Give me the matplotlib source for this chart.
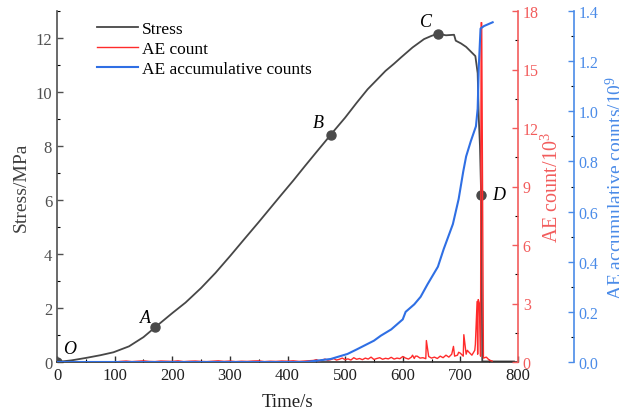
import matplotlib
matplotlib.use("Agg")
import matplotlib.pyplot as plt
from matplotlib.ticker import MultipleLocator, FormatStrFormatter
import numpy as np

plt.rcParams['font.family'] = ['Liberation Serif', 'DejaVu Serif']
plt.rcParams['mathtext.fontset'] = 'custom'
plt.rcParams['mathtext.rm'] = 'Liberation Serif'
plt.rcParams['mathtext.it'] = 'Liberation Serif:italic'

# ---- data ----
stress_t = [0, 25, 50, 75, 98, 125, 136, 150, 170, 200, 223, 250, 275, 301, 325, 350,
            388, 410, 430, 450, 469, 475, 500, 520, 539, 555, 570, 585, 597, 617, 637,
            650, 661, 675, 689, 692, 701, 710, 718, 726, 730, 732, 734, 736, 738, 760, 793]
stress = [0, 0.06, 0.15, 0.25, 0.36, 0.58, 0.73, 0.92, 1.28, 1.81, 2.2, 2.74, 3.3,
          3.94, 4.55, 5.18, 6.16, 6.72, 7.25, 7.77, 8.26, 8.42, 9.05, 9.6, 10.1, 10.45,
          10.78, 11.05, 11.28, 11.65, 11.96, 12.08, 12.16, 12.1, 12.12, 11.9, 11.8,
          11.67, 11.5, 11.33, 10.7, 9.0, 8.0, 6.2, 0.02, 0.02, 0.02]

# AE count (x10^3): background noise and spikes
ae_t_low = list(range(100, 441, 10))
ae_low = [0, 0.03, 0.05, 0.02, 0.04, 0.06, 0.03, 0.02, 0.05, 0.04, 0.03, 0.06, 0.02,
          0.04, 0.05, 0.03, 0.02, 0.04, 0.06, 0.03, 0.05, 0.02, 0.04, 0.03, 0.05, 0.06,
          0.02, 0.04, 0.03, 0.05, 0.04, 0.06, 0.03, 0.05, 0.07]
ae_t_mid = list(range(445, 601, 5))
ae_mid = [0.08, 0.12, 0.06, 0.10, 0.15, 0.09, 0.12, 0.18, 0.10, 0.14, 0.20, 0.12,
          0.16, 0.10, 0.22, 0.14, 0.18, 0.12, 0.20, 0.15, 0.25, 0.13, 0.18, 0.22,
          0.14, 0.19, 0.16, 0.24, 0.15, 0.20, 0.17, 0.28]
ae_t_high = list(range(605, 756, 5))
ae_high = [0.20, 0.15, 0.25, 0.18, 0.30, 0.20, 0.22, 0.17, 0.28, 0.20, 0.25, 0.18,
           0.30, 0.22, 0.35, 0.25, 0.40, 0.30, 0.35, 0.45, 0.30, 0.40, 0.50, 0.35,
           0.60, 0.40, 0.30, 0.20, 0.25, 0.10, 0.05]
spike_t = [617, 622, 641, 688, 697, 706, 712, 726, 729, 731, 733, 736, 737]
spike_v = [0.35, 0.30, 1.10, 0.80, 0.50, 1.40, 0.60, 0.90, 3.10, 3.20, 3.00, 17.4, 17.4]

cum_t = [0, 430, 450, 475, 504, 520, 550, 562, 580, 600, 605, 620, 631, 643, 661, 671,
         687, 697, 705, 710, 718, 727, 730, 732, 735, 741, 756]
cum = [0, 0, 0.005, 0.012, 0.032, 0.05, 0.085, 0.105, 0.13, 0.17, 0.20, 0.23, 0.26,
       0.31, 0.38, 0.45, 0.55, 0.65, 0.76, 0.82, 0.88, 0.94, 1.01, 1.18, 1.33, 1.34, 1.355]

points = ['O', 'A', 'B', 'C', 'D']
point_t = [0, 170, 475, 661, 736]
point_s = [0, 1.28, 8.42, 12.16, 6.2]
label_off = [(13, 13), (-9, 10), (-12, 12), (-12, 12), (18, 0)]

# merge AE count
ae_t = np.array(ae_t_low + ae_t_mid + ae_t_high + spike_t, dtype=float)
ae_v = np.array(ae_low + ae_mid + ae_high + spike_v, dtype=float)
order = np.argsort(ae_t, kind='stable')
ae_t, ae_v = ae_t[order], ae_v[order]

c_stress = '#474747'
c_red = '#FF2B2B'
c_red_ax = '#F25C5C'
c_blue = '#2F6FE4'
c_blue_ax = '#4A8BE8'

fig = plt.figure(figsize=(6.19, 4.14), dpi=100)
ax = fig.add_axes([57/619, 51/414, 461/619, 351/414])
ax2 = ax.twinx()
ax3 = ax.twinx()
ax3.spines['right'].set_position(('outward', 40))

l1, = ax.plot(stress_t, stress, color=c_stress, lw=1.3, label='Stress')
ax.plot(point_t, point_s, 'o', color='#4a4a4a', ms=6.5, zorder=5)
for p, x, y, off in zip(points, point_t, point_s, label_off):
    ax.annotate(p, (x, y), xytext=off, textcoords='offset pixels', fontsize=13,
                style='italic', ha='center', va='center', color='black')

l2, = ax2.plot(ae_t, ae_v, color=c_red, lw=1.0, label='AE count')
l3, = ax3.plot(cum_t, cum, color=c_blue, lw=1.5, label='AE accumulative counts')

ax.set_xlim(0, 800)
ax.set_ylim(0, 13)
ax2.set_ylim(0, 18)
ax3.set_ylim(0, 1.4)

ax.xaxis.set_major_locator(MultipleLocator(100))
ax.xaxis.set_minor_locator(MultipleLocator(50))
ax.yaxis.set_major_locator(MultipleLocator(2))
ax.yaxis.set_minor_locator(MultipleLocator(1))
ax2.yaxis.set_major_locator(MultipleLocator(3))
ax2.yaxis.set_minor_locator(MultipleLocator(1.5))
ax3.yaxis.set_major_locator(MultipleLocator(0.2))
ax3.yaxis.set_minor_locator(MultipleLocator(0.1))
ax3.yaxis.set_major_formatter(FormatStrFormatter('%.1f'))

for a in (ax, ax2, ax3):
    a.tick_params(which='major', direction='in', length=4.5, width=1)
    a.tick_params(which='minor', direction='in', length=2.5, width=0.8)
ax.tick_params(labelsize=12)
ax2.tick_params(labelsize=11.5)
ax3.tick_params(labelsize=11.5)

ax.tick_params(axis='y', colors='#505050', labelcolor='#505050')
ax.tick_params(axis='x', colors='#303030', labelcolor='#202020')
ax.spines['left'].set_color('#505050')
ax.spines['bottom'].set_color('#303030')
ax.spines['top'].set_visible(False)
for a in (ax2, ax3):
    a.spines['top'].set_visible(False)
    a.spines['left'].set_visible(False)
    a.spines['bottom'].set_visible(False)
ax.spines['right'].set_visible(False)
ax2.spines['right'].set_color(c_red_ax)
ax2.tick_params(axis='y', colors=c_red_ax, labelcolor=c_red_ax)
ax3.spines['right'].set_color(c_blue_ax)
ax3.tick_params(axis='y', colors=c_blue_ax, labelcolor=c_blue_ax)
for a in (ax, ax2, ax3):
    for s in a.spines.values():
        s.set_linewidth(1.2)

ax.set_xlabel('Time/s', fontsize=13.5, color='#202020', labelpad=7)
ax.set_ylabel('Stress/MPa', fontsize=14, color='#404040', labelpad=4)
ax2.set_ylabel('AE count/10$^3$', fontsize=14.5, color=c_red_ax, labelpad=2)
ax3.set_ylabel('AE accumulative counts/10$^9$', fontsize=14, color=c_blue_ax, labelpad=5)

leg = ax.legend(handles=[l1, l2, l3], loc='upper left', bbox_to_anchor=(0.065, 1.0),
                frameon=False, fontsize=12.5, handlelength=2.4, handletextpad=0.2,
                labelspacing=0.22, borderaxespad=0.15)

fig.savefig('out.png', dpi=100)
